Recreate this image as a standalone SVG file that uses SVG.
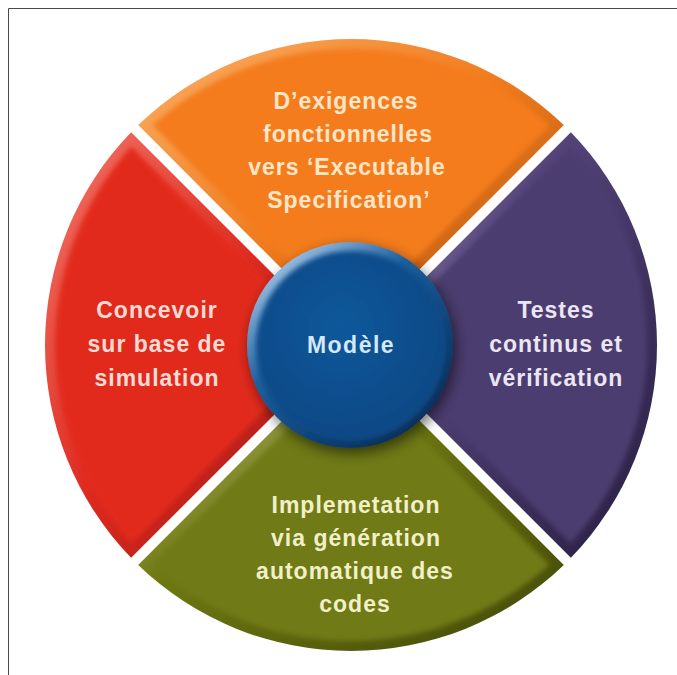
<svg xmlns="http://www.w3.org/2000/svg" width="677" height="675" viewBox="0 0 677 675">
  <defs>
    <style>
      .label { font-family: "Liberation Sans", Arial, sans-serif; font-weight: bold; font-size: 23px; letter-spacing: 1px; text-anchor: middle; }
      .frame { fill: none; stroke: #4a4a4a; stroke-width: 1; }
    </style>
    <!-- rim gradients: light from the upper left, shade to the lower right -->
    <linearGradient id="rimOrange" x1="0" y1="0" x2="1" y2="1">
      <stop offset="0" stop-color="#fbb067"/>
      <stop offset="0.5" stop-color="#f07a1c"/>
      <stop offset="1" stop-color="#a9500c"/>
    </linearGradient>
    <linearGradient id="rimPurple" x1="0" y1="0" x2="1" y2="1">
      <stop offset="0" stop-color="#c3bccf"/>
      <stop offset="0.35" stop-color="#54447a"/>
      <stop offset="1" stop-color="#281c40"/>
    </linearGradient>
    <linearGradient id="rimGreen" x1="0" y1="0" x2="1" y2="1">
      <stop offset="0" stop-color="#d4d3a2"/>
      <stop offset="0.4" stop-color="#6f7912"/>
      <stop offset="1" stop-color="#414708"/>
    </linearGradient>
    <linearGradient id="rimRed" x1="0" y1="0" x2="1" y2="1">
      <stop offset="0" stop-color="#f3786a"/>
      <stop offset="0.5" stop-color="#de2a1f"/>
      <stop offset="1" stop-color="#8e1510"/>
    </linearGradient>
    <linearGradient id="rimBlue" x1="0.15" y1="0.1" x2="0.85" y2="0.95">
      <stop offset="0" stop-color="#9cc0e2"/>
      <stop offset="0.35" stop-color="#1d5f9e"/>
      <stop offset="1" stop-color="#052a52"/>
    </linearGradient>
    <radialGradient id="faceBlue" cx="0.45" cy="0.4" r="0.65">
      <stop offset="0" stop-color="#11589a"/>
      <stop offset="1" stop-color="#0b4784"/>
    </radialGradient>
    <filter id="soft" x="-5%" y="-5%" width="110%" height="110%">
      <feGaussianBlur stdDeviation="2.5"/>
    </filter>
    <filter id="shadow" x="-20%" y="-20%" width="140%" height="140%">
      <feDropShadow dx="3" dy="5" stdDeviation="7" flood-color="#000" flood-opacity="0.55"/>
    </filter>
  </defs>

  <rect width="677" height="675" fill="#ffffff"/>
  <!-- frame: top and left edges -->
  <path class="frame" d="M8.5 675 V8.5 H677"/>

  <!-- top segment -->
  <g id="segment-requirements">
    <path d="M351 337.93 L138.19 125.11 A306 306 0 0 1 563.81 125.11 Z" fill="url(#rimOrange)"/>
    <path d="M351 323.79 L152.57 125.35 A296 296 0 0 1 549.43 125.35 Z" fill="#f47b1e" filter="url(#soft)"/>
    <text class="label" fill="#ffe6c8" x="346" y="109">D’exigences</text>
    <text class="label" fill="#ffe6c8" x="348" y="142">fonctionnelles</text>
    <text class="label" fill="#ffe6c8" x="347" y="175">vers ‘Executable</text>
    <text class="label" fill="#ffe6c8" x="349" y="208">Specification’</text>
  </g>

  <!-- right segment -->
  <g id="segment-testing">
    <path d="M358.07 345 L570.89 132.19 A306 306 0 0 1 570.89 557.81 Z" fill="url(#rimPurple)"/>
    <path d="M372.21 345 L570.65 146.57 A296 296 0 0 1 570.65 543.43 Z" fill="#4b3c6f" filter="url(#soft)"/>
    <text class="label" fill="#ece6f4" x="556" y="318">Testes</text>
    <text class="label" fill="#ece6f4" x="556" y="352">continus et</text>
    <text class="label" fill="#ece6f4" x="556" y="386">vérification</text>
  </g>

  <!-- bottom segment -->
  <g id="segment-implementation">
    <path d="M351 352.07 L563.81 564.89 A306 306 0 0 1 138.19 564.89 Z" fill="url(#rimGreen)"/>
    <path d="M351 366.21 L549.43 564.65 A296 296 0 0 1 152.57 564.65 Z" fill="#6f7a13" filter="url(#soft)"/>
    <text class="label" fill="#f2f0c8" x="356" y="513">Implemetation</text>
    <text class="label" fill="#f2f0c8" x="356" y="546">via génération</text>
    <text class="label" fill="#f2f0c8" x="355" y="579">automatique des</text>
    <text class="label" fill="#f2f0c8" x="355" y="612">codes</text>
  </g>

  <!-- left segment -->
  <g id="segment-design">
    <path d="M343.93 345 L131.11 557.81 A306 306 0 0 1 131.11 132.19 Z" fill="url(#rimRed)"/>
    <path d="M329.79 345 L131.35 543.43 A296 296 0 0 1 131.35 146.57 Z" fill="#e2291f" filter="url(#soft)"/>
    <text class="label" fill="#fbdcd4" x="157" y="318">Concevoir</text>
    <text class="label" fill="#fbdcd4" x="157" y="352">sur base de</text>
    <text class="label" fill="#fbdcd4" x="157" y="386">simulation</text>
  </g>

  <!-- central sphere -->
  <g id="hub-model">
    <circle cx="350" cy="345" r="103" fill="url(#rimBlue)" filter="url(#shadow)"/>
    <circle cx="351" cy="346" r="95" fill="url(#faceBlue)" filter="url(#soft)"/>
    <text class="label" fill="#d4e8f8" x="351" y="353" style="letter-spacing:1.5px">Modèle</text>
  </g>
</svg>
